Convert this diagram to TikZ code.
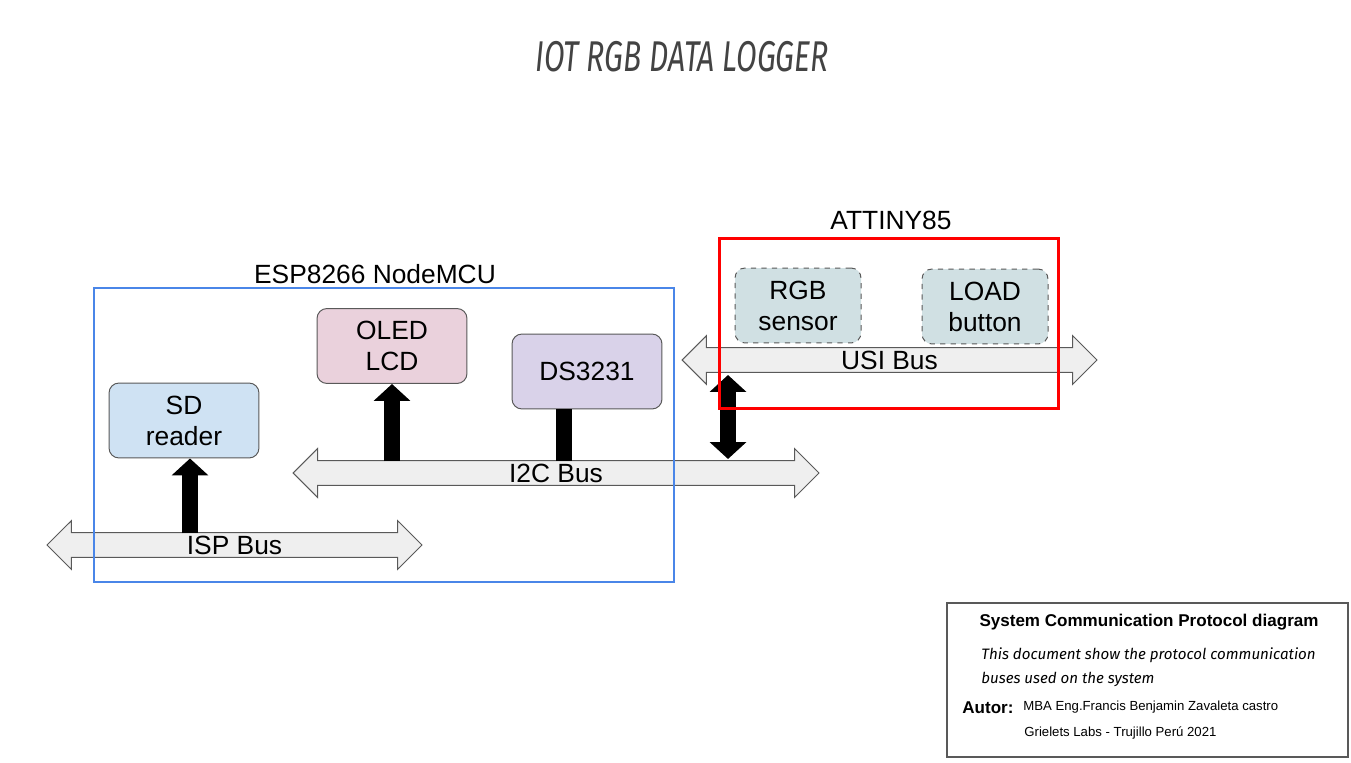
\documentclass[tikz,border=0pt]{standalone}
\usepackage{fontspec}
\setmainfont{Liberation Sans}
\newfontfamily\handfont{Fira Sans}
\usetikzlibrary{shapes.arrows,arrows.meta,calc}

\definecolor{espblue}{HTML}{4A86E8}
\definecolor{tinyred}{HTML}{FF0000}
\definecolor{sdfill}{HTML}{CFE2F3}
\definecolor{oledfill}{HTML}{EAD1DC}
\definecolor{rtcfill}{HTML}{D9D2E9}
\definecolor{tinyfill}{HTML}{D0E0E3}
\definecolor{busfill}{HTML}{EFEFEF}
\definecolor{edgegray}{HTML}{595959}
\definecolor{titlegray}{HTML}{434343}

\newcommand\partfont{\fontsize{15}{17.6}\selectfont}

\tikzset{
  bus/.style={double arrow, draw=edgegray, fill=busfill, line width=0.2mm,
    double arrow head extend=2.4mm, inner xsep=0pt, inner ysep=1.45pt,
    text height=10.7pt, text depth=0pt, font=\partfont},
  part/.style={draw=edgegray, rounded corners=2mm, line width=0.2mm,
    minimum width=30mm, minimum height=15mm, align=center, font=\partfont},
  feed/.style={line width=3.2mm, black},
  tip/.tip={Triangle[width=7.2mm, length=3.4mm]}
}

\begin{document}
\begin{tikzpicture}[x=0.02cm, y=-0.02cm]
  \useasboundingbox (0,0) rectangle (1351,763);

  \node[font=\handfont\itshape\fontsize{24.5}{25}\selectfont, text=titlegray,
        xscale=0.7, transform shape] (title) at (682,57) {IOT RGB DATA LOGGER};

  % buses
  \node[bus, minimum height=75mm] (isp) at (234.5,545) {ISP Bus};
  \node[bus, minimum height=105.2mm] (i2c) at (556,473) {I2C Bus};
  \node[bus, minimum height=83mm] (usi) at (889.5,360) {USI Bus};

  % parts
  \node[part, fill=sdfill] (sd) at (184,420.5) {SD\\reader};
  \node[part, fill=oledfill] (oled) at (392,346) {OLED\\LCD};
  \node[part, fill=rtcfill] (rtc) at (587,371.5) {DS3231};
  \node[part, fill=tinyfill, dashed, minimum width=25.2mm] (rgb) at (798,305.5) {RGB\\sensor};
  \node[part, fill=tinyfill, dashed, minimum width=25.2mm] (load) at (985,306.5) {LOAD\\button};

  % links to the buses
  \coordinate (tap) at (728,417);
  \draw[feed, -tip] ($(sd.south |- isp.center)+(6,-12)$) -- ($(sd.south)+(6,0)$);
  \draw[feed, -tip] ($(oled.south |- i2c.center)+(0,-12)$) -- (oled.south);
  \draw[feed] ($(rtc.south)+(-23.5,0)$) -- ($(rtc.south |- i2c.center)+(-23.5,-12)$);
  \draw[feed, tip-tip] ($(tap |- usi.center)+(0,15)$) -- ($(tap |- i2c.center)+(0,-14)$);

  % boards
  \node[draw=espblue, line width=0.5mm, minimum width=116mm, minimum height=58.8mm] (esp) at (384,435) {};
  \node[font=\partfont] (espname) at (375,274) {ESP8266 NodeMCU};
  \node[draw=tinyred, line width=0.6mm, minimum width=68mm, minimum height=34.2mm] (tiny) at (889,323.5) {};
  \node[font=\partfont] (tinyname) at (891,220) {ATTINY85};

  % info box
  \node[draw=edgegray, line width=0.55mm, minimum width=80.2mm, minimum height=30.8mm] (info) at (1147.5,680) {};
  \node[font=\bfseries\fontsize{9.7}{11}\selectfont] (infotitle) at (1149,622) {System Communication Protocol diagram};
  \node[anchor=west, inner sep=0pt, font=\handfont\itshape\fontsize{8.6}{9}\selectfont] (note1) at (981,655) {This document show the protocol communication};
  \node[anchor=west, inner sep=0pt, font=\handfont\itshape\fontsize{8.6}{9}\selectfont] (note2) at (981,679) {buses used on the system};
  \node[anchor=west, inner sep=0pt, font=\bfseries\fontsize{9.7}{11}\selectfont] (autor) at (962,708) {Autor:};
  \node[anchor=west, inner sep=0pt, font=\fontsize{7.5}{9}\selectfont] (author) at (1023,707) {MBA Eng.Francis Benjamin Zavaleta castro};
  \node[anchor=west, inner sep=0pt, font=\fontsize{7.5}{9}\selectfont] (labs) at (1024,733) {Grielets Labs - Trujillo Perú 2021};
\end{tikzpicture}
\end{document}
